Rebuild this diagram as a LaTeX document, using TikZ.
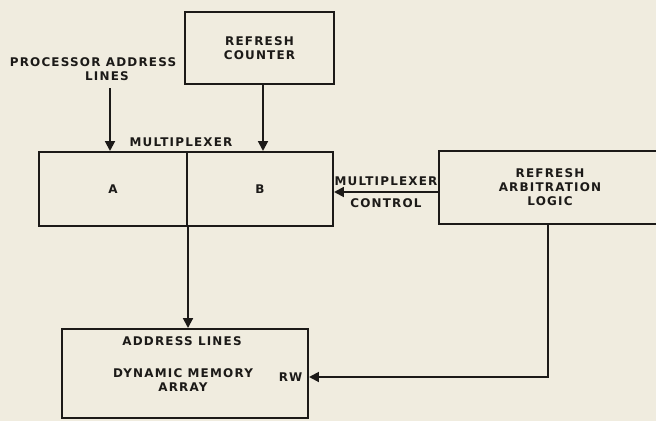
\documentclass[tikz,border=0pt]{standalone}
\usepackage{fontspec}
\setmainfont{DejaVu Sans}[BoldFont={DejaVu Sans Bold}]
\newfontfamily\labelfont{DejaVu Sans Bold}[LetterSpace=10]
\usetikzlibrary{arrows.meta, positioning, calc}
\definecolor{my_paper}{HTML}{F0ECDF}
\definecolor{my_ink}{HTML}{1C1A18}

\tikzset{
    blockbox/.style={draw=my_ink, line width=1.4pt, inner sep=0pt,
        align=center, font=\labelfont\fontsize{8.5}{10}\selectfont, text=my_ink},
    lbl/.style={inner sep=1pt, align=center, text=my_ink,
        font=\labelfont\fontsize{8.5}{10}\selectfont},
    sig/.style={draw=my_ink, line width=1.4pt,
        -{Triangle[length=7pt, width=7pt]}}
}

\begin{document}
\begin{tikzpicture}[x=0.025cm, y=-0.025cm]

% page, 656 x 420 px (1px = 0.025cm, y grows downwards)
\useasboundingbox (0,0) rectangle (656,420);
\fill[my_paper] (-10,-10) rectangle (666,430);
\clip (0,0) rectangle (656,420);

% Blocks
\node[blockbox, minimum width=3.725cm, minimum height=1.8cm]
    (counter) at (259.5,48) {REFRESH\\COUNTER};

\node[blockbox, minimum width=3.7cm, minimum height=1.85cm]
    (muxa) at (113,189) {A};
\node[blockbox, minimum width=3.65cm, minimum height=1.85cm]
    (muxb) at (260,189) {B};

% arbitration block runs off the right edge of the page
\node[blockbox, minimum width=5.55cm, minimum height=1.825cm]
    (arb) at (550,187.5) {REFRESH\\ARBITRATION\\LOGIC};

\node[blockbox, minimum width=6.15cm, minimum height=2.225cm]
    (mem) at (185,373.5) {};

% Labels
\node[lbl] (proc) at (93,69) {PROCESSOR ADDRESS\\\hspace*{0.7cm}LINES};
\node[lbl, anchor=south] (muxlbl) at ($(muxa.north east)+(-7,-3)$) {MULTIPLEXER};
\node[lbl] (addr) at (182,341) {ADDRESS LINES};
\node[lbl] (dyn) at (183,380) {DYNAMIC MEMORY\\ARRAY};
\node[lbl, anchor=east] (rw) at ($(mem.east)+(-5,3.5)$) {RW};

% Connectors
\coordinate (procin) at (110,88);
\draw[sig] (procin) -- (procin |- muxa.north);
\draw[sig] (counter.south -| 263,0) -- (muxb.north -| 263,0);

\draw[sig] (arb.west |- 0,192) -- (muxb.east |- 0,192)
    node[lbl, midway, above=3pt] (ctl1) {MULTIPLEXER}
    node[lbl, midway, below=3pt] (ctl2) {CONTROL};

\draw[sig] (muxa.south east) -- (muxa.south east |- mem.north);

\coordinate (rwturn) at (548,377);
\draw[sig] (arb.south -| rwturn) -- (rwturn) -- (rwturn -| mem.east);

\end{tikzpicture}
\end{document}
